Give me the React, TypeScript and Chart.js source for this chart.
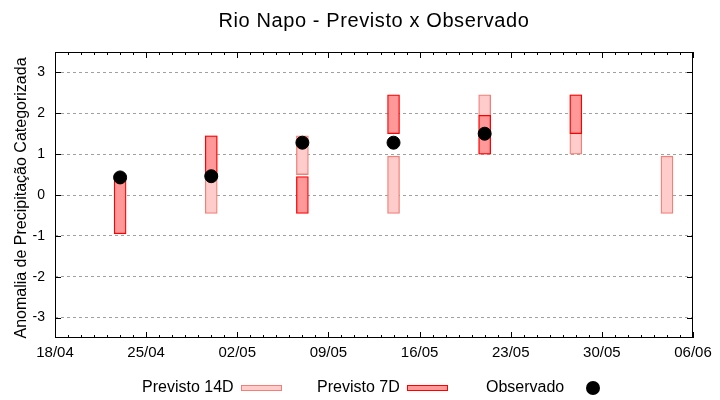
import { useEffect, useRef } from "react";
import { Chart, registerables } from "chart.js";

Chart.register(...registerables);

const FONT = "'Liberation Sans', Arial, sans-serif";

const titleText = "Rio Napo - Previsto x Observado";
const yAxisTitle = "Anomalia de Precipitação Categorizada";
const startDate = "2024-04-18";
const xTickLabels = ["18/04", "25/04", "02/05", "09/05", "16/05", "23/05", "30/05", "06/06"];
const yTickValues = [-3, -2, -1, 0, 1, 2, 3];

const forecast14Label = "Previsto 14D";
const forecast14Dates = ["2024-04-30", "2024-05-07", "2024-05-14", "2024-05-21", "2024-05-28", "2024-06-04"];
const forecast14Low = [-0.45, 0.5, -0.45, 1.0, 1.0, -0.45];
const forecast14High = [1.45, 1.45, 0.95, 2.45, 2.45, 0.95];

const forecast7Label = "Previsto 7D";
const forecast7Dates = ["2024-04-23", "2024-04-30", "2024-05-07", "2024-05-14", "2024-05-21", "2024-05-28"];
const forecast7Low = [-0.95, 0.45, -0.45, 1.5, 1.0, 1.5];
const forecast7High = [0.45, 1.45, 0.45, 2.45, 1.95, 2.45];

const observedLabel = "Observado";
const observedDates = ["2024-04-23", "2024-04-30", "2024-05-07", "2024-05-14", "2024-05-21"];
const observedValues = [0.43, 0.46, 1.28, 1.28, 1.5];

const C14_FILL = "rgb(255,204,204)";
const C14_BORDER = "rgb(242,128,120)";
const C7_FILL = "rgb(255,153,153)";
const C7_BORDER = "rgb(255,0,0)";

const dayOffset = (d: string) => Math.round((Date.parse(d) - Date.parse(startDate)) / 86400000);
const X_MAX = (xTickLabels.length - 1) * 7;

const decorPlugin = {
  id: "decor",
  afterDatasetsDraw(chart: any) {
    const { ctx, chartArea, scales } = chart;
    const { left, right, top, bottom } = chartArea;
    ctx.save();
    ctx.strokeStyle = "#000";
    ctx.lineWidth = 1;
    ctx.strokeRect(left + 0.5, top + 0.5, right - left - 1, bottom - top - 1);
    ctx.beginPath();
    for (let d = 0; d <= X_MAX; d++) {
      const px = Math.round(scales.x.getPixelForValue(d)) + 0.5;
      const len = d % 7 === 0 ? 6 : 3;
      ctx.moveTo(px, bottom);
      ctx.lineTo(px, bottom - len);
      ctx.moveTo(px, top);
      ctx.lineTo(px, top + len);
    }
    for (const v of yTickValues) {
      const py = Math.round(scales.y.getPixelForValue(v)) + 0.5;
      ctx.moveTo(left, py);
      ctx.lineTo(left + 6, py);
      ctx.moveTo(right, py);
      ctx.lineTo(right - 6, py);
    }
    ctx.stroke();
    ctx.restore();
  },
  afterDraw(chart: any) {
    const { ctx, chartArea } = chart;
    const { left, right, top, bottom } = chartArea;
    ctx.save();
    ctx.fillStyle = "#000";
    ctx.font = `20px ${FONT}`;
    ctx.textAlign = "center";
    ctx.textBaseline = "alphabetic";
    (ctx as any).letterSpacing = "0.6px";
    ctx.fillText(titleText, (left + right) / 2, 27);
    (ctx as any).letterSpacing = "0px";
    ctx.save();
    ctx.font = `16px ${FONT}`;
    ctx.translate(26, (top + bottom) / 2 + 3);
    ctx.rotate(-Math.PI / 2);
    ctx.textAlign = "center";
    ctx.textBaseline = "alphabetic";
    ctx.fillText(yAxisTitle, 0, 0);
    ctx.restore();
    ctx.font = `16px ${FONT}`;
    ctx.textAlign = "left";
    ctx.textBaseline = "alphabetic";
    const base = 392;
    ctx.fillText(forecast14Label, 142, base);
    ctx.fillStyle = C14_FILL;
    ctx.fillRect(241, 386, 41, 5);
    ctx.strokeStyle = C14_BORDER;
    ctx.lineWidth = 1;
    ctx.strokeRect(241.5, 385.5, 40, 5);
    ctx.fillStyle = "#000";
    ctx.fillText(forecast7Label, 317, base);
    ctx.fillStyle = C7_FILL;
    ctx.fillRect(407, 386, 41, 5);
    ctx.strokeStyle = C7_BORDER;
    ctx.strokeRect(407.5, 385.5, 40, 5);
    ctx.fillStyle = "#000";
    ctx.fillText(observedLabel, 486, base);
    ctx.beginPath();
    ctx.arc(593, 388, 7, 0, Math.PI * 2);
    ctx.fill();
    ctx.restore();
  },
};

export default function App() {
  const ref = useRef<HTMLCanvasElement | null>(null);

  useEffect(() => {
    document.body.style.margin = "0";
    const canvas = ref.current;
    if (!canvas) return;
    const chart = new Chart(canvas, {
      type: "bar",
      data: {
        datasets: [
          {
            type: "line",
            label: observedLabel,
            data: observedDates.map((d, i) => ({ x: dayOffset(d), y: observedValues[i] })),
            showLine: false,
            pointRadius: 6.5,
            pointBorderWidth: 1,
            pointBackgroundColor: "#000",
            pointBorderColor: "#000",
            order: 0,
          } as any,
          {
            type: "bar",
            label: forecast7Label,
            data: forecast7Dates.map((d, i) => ({ x: dayOffset(d), y: [forecast7Low[i], forecast7High[i]] })),
            backgroundColor: C7_FILL,
            borderColor: C7_BORDER,
            borderWidth: 1.3,
            borderSkipped: false,
            barThickness: 12,
            grouped: false,
            order: 1,
          } as any,
          {
            type: "bar",
            label: forecast14Label,
            data: forecast14Dates.map((d, i) => ({ x: dayOffset(d), y: [forecast14Low[i], forecast14High[i]] })),
            backgroundColor: C14_FILL,
            borderColor: C14_BORDER,
            borderWidth: 1.3,
            borderSkipped: false,
            barThickness: 12,
            grouped: false,
            order: 2,
          } as any,
        ],
      },
      options: {
        animation: false,
        responsive: false,
        maintainAspectRatio: false,
        layout: { padding: { top: 52, right: 27, left: 0, bottom: 0 } },
        plugins: {
          legend: { display: false },
          tooltip: { enabled: false },
          title: { display: false },
        },
        scales: {
          x: {
            type: "linear",
            min: 0,
            max: X_MAX,
            offset: false,
            grid: { display: false, drawTicks: false },
            border: { display: false },
            afterBuildTicks: (scale: any) => {
              scale.ticks = xTickLabels.map((_, i) => ({ value: i * 7 }));
            },
            afterFit: (scale: any) => {
              scale.height = 62;
            },
            ticks: {
              autoSkip: false,
              maxRotation: 0,
              padding: 6,
              color: "#000",
              font: { family: FONT, size: 15 },
              callback: (v: any) => xTickLabels[Math.round(Number(v) / 7)] ?? "",
            },
          },
          y: {
            type: "linear",
            min: -3.5,
            max: 3.5,
            grid: { color: "rgb(160,160,160)", lineWidth: 1, drawTicks: false },
            border: { display: false, dash: [3, 3] },
            afterBuildTicks: (scale: any) => {
              scale.ticks = yTickValues.map((v) => ({ value: v }));
            },
            afterFit: (scale: any) => {
              scale.width = 55;
            },
            ticks: {
              padding: 10,
              color: "#000",
              font: { family: FONT, size: 14 },
              callback: (v: any) => String(v),
            },
          },
        },
      } as any,
      plugins: [decorPlugin],
    });
    return () => chart.destroy();
  }, []);

  return (
    <div style={{ position: "fixed", left: 0, top: 0, width: 720, height: 400, background: "#fff" }}>
      <canvas ref={ref} width={720} height={400} style={{ display: "block" }} />
    </div>
  );
}
